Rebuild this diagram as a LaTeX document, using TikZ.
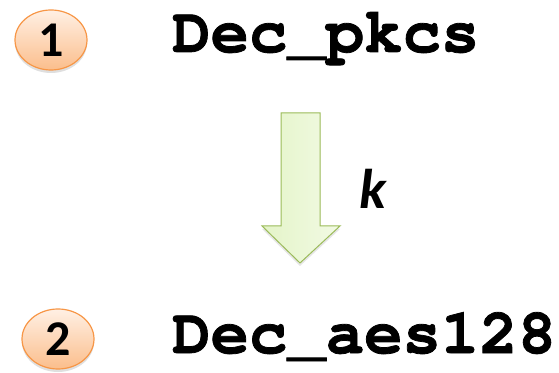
\documentclass[tikz,border=0pt]{standalone}
\usepackage{fontspec}
\usetikzlibrary{shapes.geometric,shadows}
\newfontfamily\monob{texgyrecursor-bold.otf}[FakeBold=1.2]
\newfontfamily\carlito{Carlito}
\definecolor{orborder}{HTML}{F79646}
\definecolor{ortop}{HTML}{FFF0E4}
\definecolor{orbot}{HTML}{FBBE8C}
\definecolor{grborder}{HTML}{9BBB59}
\definecolor{grfill}{HTML}{E4F4C8}
\definecolor{grfill2}{HTML}{F2FAE4}
\tikzset{
  stepnum/.style={ellipse, draw=orborder, line width=1.2pt, top color=ortop, bottom color=orbot,
    minimum width=72pt, minimum height=60pt, inner sep=0pt,
    font=\carlito\bfseries\fontsize{50}{50}\selectfont,
    drop shadow={shadow xshift=0pt, shadow yshift=-3pt, opacity=0.25}},
  code/.style={anchor=base west, inner sep=0pt, font=\monob\fontsize{64}{64}\selectfont},
  arrowshape/.style={draw=grborder, line width=1pt, left color=grfill, right color=grfill2, line join=miter,
    drop shadow={shadow xshift=0pt, shadow yshift=-3pt, opacity=0.2}}
}
\begin{document}
\begin{tikzpicture}[x=1pt,y=1pt]
\useasboundingbox (0,0) rectangle (559,372);
\node[stepnum] (n1) at (51,332) {1};
\node[stepnum] (n2) at (58,33) {2};
\node[code] (t1) at (172,320) {Dec\_pkcs};
\node[code] (t2) at (172,19) {Dec\_aes128};
\path[arrowshape] (281,259) -- (320,259) -- (320,146) -- (340,146) -- (300,109) -- (262,146) -- (281,146) -- cycle;
\node[font=\carlito\bfseries\itshape\fontsize{56}{56}\selectfont, inner sep=0pt] (k) at (373,183) {k};
\end{tikzpicture}
\end{document}
